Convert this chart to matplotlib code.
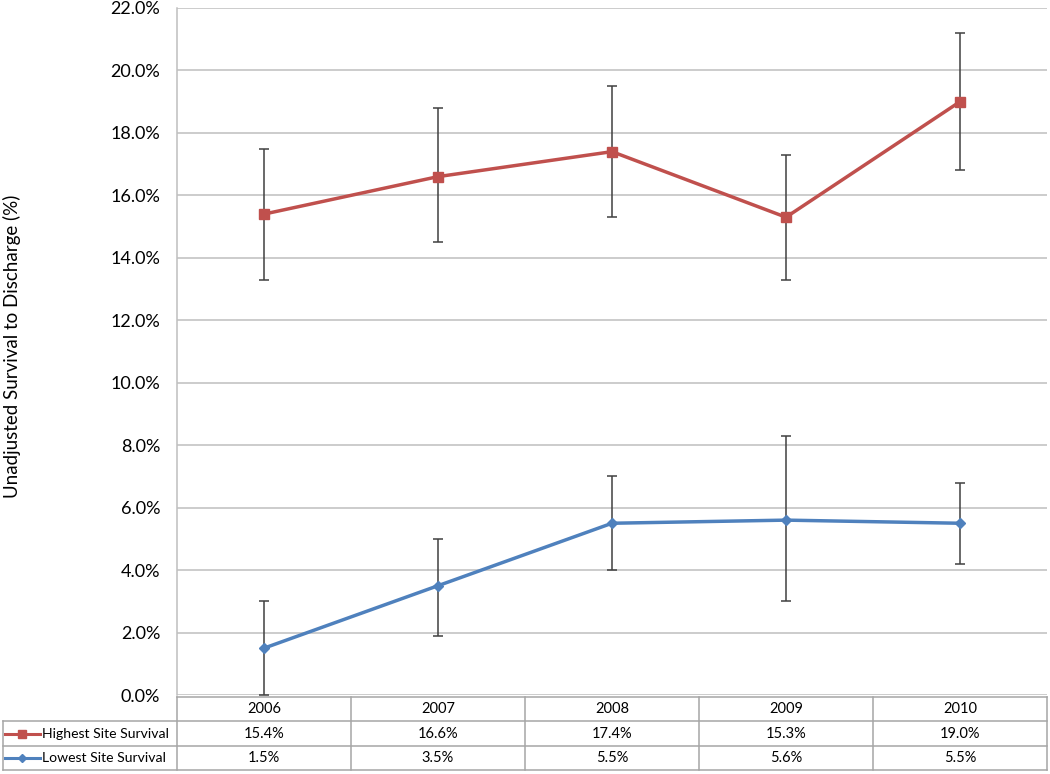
import matplotlib.pyplot as plt
from matplotlib.ticker import FuncFormatter

plt.rcParams['font.family'] = ['Lato', 'DejaVu Sans']

years = ["2006", "2007", "2008", "2009", "2010"]
highest = [15.4, 16.6, 17.4, 15.3, 19.0]
highest_lo = [13.3, 14.5, 15.3, 13.3, 16.8]
highest_hi = [17.5, 18.8, 19.5, 17.3, 21.2]
lowest = [1.5, 3.5, 5.5, 5.6, 5.5]
lowest_lo = [0.0, 1.9, 4.0, 3.0, 4.2]
lowest_hi = [3.0, 5.0, 7.0, 8.3, 6.8]

red = "#C0504D"
blue = "#4F81BD"
grid_c = "#BFBFBF"
err_c = "#404040"

W, H = 1050, 774
fig = plt.figure(figsize=(W / 100, H / 100), dpi=100)

# main plot area
ax = fig.add_axes([177 / W, 1 - 695 / H, 870 / W, 687 / H])
x = list(range(len(years)))

def errs(v, lo, hi):
    return [[a - b for a, b in zip(v, lo)], [c - a for a, c in zip(v, hi)]]

ax.errorbar(x, highest, yerr=errs(highest, highest_lo, highest_hi), fmt="none",
            ecolor=err_c, elinewidth=1.1, capsize=3.5, capthick=1.1, zorder=2)
ax.errorbar(x, lowest, yerr=errs(lowest, lowest_lo, lowest_hi), fmt="none",
            ecolor=err_c, elinewidth=1.1, capsize=3.5, capthick=1.1, zorder=2)
ax.plot(x, highest, color=red, lw=2.5, marker="s", ms=7, zorder=3)
ax.plot(x, lowest, color=blue, lw=2.5, marker="D", ms=5.5, zorder=3)

ax.set_xlim(-0.5, len(years) - 0.5)
ax.set_ylim(0, 22)
ax.set_yticks(range(0, 23, 2))
ax.yaxis.set_major_formatter(FuncFormatter(lambda v, p: f"{v:.1f}%"))
ax.tick_params(axis="y", length=0, pad=12, labelsize=13)
ax.set_xticks([])
ax.grid(axis="y", color=grid_c, lw=1.1)
ax.set_axisbelow(True)
for s in ["top", "right", "bottom"]:
    ax.spines[s].set_visible(False)
ax.spines["left"].set_color(grid_c)
ax.spines["left"].set_linewidth(1.1)

fig.text(12 / W, 1 - 346 / H, "Unadjusted Survival to Discharge (%)",
         rotation=90, va="center", ha="center", fontsize=13.5)

# data table
tax = fig.add_axes([3 / W, 1 - 770 / H, 1044 / W, 73 / H])
tax.set_xlim(-1.5, len(years) - 0.5)
tax.set_ylim(0, 3)
tax.axis("off")
lc = "#A6A6A6"
n = len(years)
# horizontal lines
tax.plot([-0.5, n - 0.5], [3, 3], color=lc, lw=1.1, clip_on=False)
for yy in [2, 1, 0]:
    tax.plot([-1.5, n - 0.5], [yy, yy], color=lc, lw=1.1, clip_on=False)
# vertical lines
tax.plot([-1.5, -1.5], [0, 2], color=lc, lw=1.1, clip_on=False)
for i in range(n + 1):
    tax.plot([i - 0.5, i - 0.5], [0, 3], color=lc, lw=1.1, clip_on=False)

for i, yr in enumerate(years):
    tax.text(i, 2.5, yr, ha="center", va="center", fontsize=10.5)
    tax.text(i, 1.5, f"{highest[i]:.1f}%", ha="center", va="center", fontsize=10.5)
    tax.text(i, 0.5, f"{lowest[i]:.1f}%", ha="center", va="center", fontsize=10.5)

rows = [("Highest Site Survival", red, "s", 6, 1.5),
        ("Lowest Site Survival", blue, "D", 4.5, 0.5)]
for label, c, m, ms, yy in rows:
    tax.plot([-1.49, -1.29], [yy, yy], color=c, lw=2.2, clip_on=False)
    tax.plot([-1.39], [yy], color=c, marker=m, ms=ms, clip_on=False)
    tax.text(-1.275, yy, label, ha="left", va="center", fontsize=10.1)

fig.savefig("out.png", dpi=100)
